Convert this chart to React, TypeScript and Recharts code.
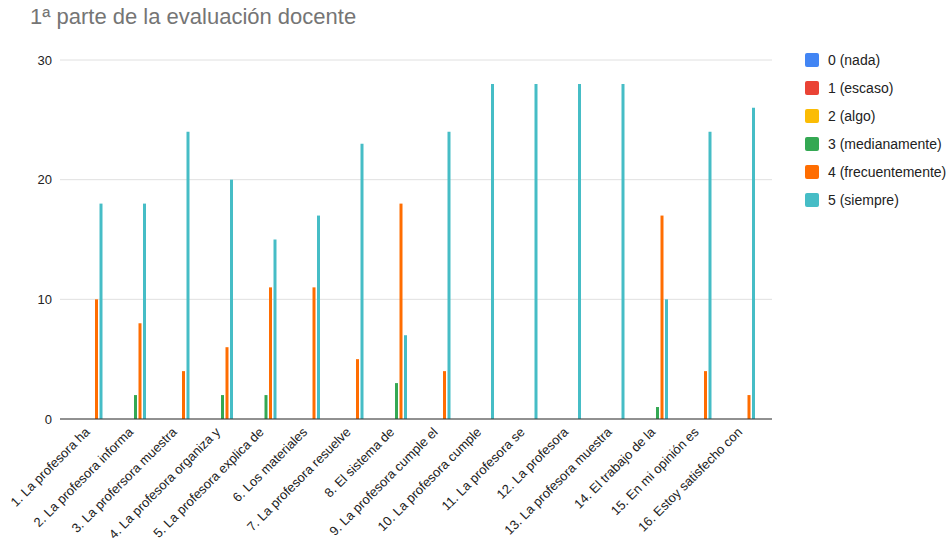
import { BarChart, Bar, XAxis, YAxis, CartesianGrid } from "recharts"

const categories = [
  "1. La profesora ha",
  "2. La profesora informa",
  "3. La profersora muestra",
  "4. La profesora organiza y",
  "5. La profesora explica de",
  "6. Los materiales",
  "7. La profesora resuelve",
  "8. El sistema de",
  "9. La profesora cumple el",
  "10. La profesora cumple",
  "11. La profesora se",
  "12. La profesora",
  "13. La profesora muestra",
  "14. El trabajo de la",
  "15. En mi opinión es",
  "16. Estoy satisfecho con",
]

const nada = [0, 0, 0, 0, 0, 0, 0, 0, 0, 0, 0, 0, 0, 0, 0, 0]
const escaso = [0, 0, 0, 0, 0, 0, 0, 0, 0, 0, 0, 0, 0, 0, 0, 0]
const algo = [0, 0, 0, 0, 0, 0, 0, 0, 0, 0, 0, 0, 0, 0, 0, 0]
const medianamente = [0, 2, 0, 2, 2, 0, 0, 3, 0, 0, 0, 0, 0, 1, 0, 0]
const frecuentemente = [10, 8, 4, 6, 11, 11, 5, 18, 4, 0, 0, 0, 0, 17, 4, 2]
const siempre = [18, 18, 24, 20, 15, 17, 23, 7, 24, 28, 28, 28, 28, 10, 24, 26]

const yTicks = [0, 10, 20, 30]

const series = [
  { key: "s0", name: "0 (nada)", color: "#4285f4", values: nada },
  { key: "s1", name: "1 (escaso)", color: "#ea4335", values: escaso },
  { key: "s2", name: "2 (algo)", color: "#fbbc04", values: algo },
  { key: "s3", name: "3 (medianamente)", color: "#34a853", values: medianamente },
  { key: "s4", name: "4 (frecuentemente)", color: "#ff6d01", values: frecuentemente },
  { key: "s5", name: "5 (siempre)", color: "#46bdc6", values: siempre },
]

const data = categories.map((name, i) => {
  const row: Record<string, string | number> = { name }
  series.forEach((s) => {
    row[s.key] = s.values[i]
  })
  return row
})

const font = "'Liberation Sans', Arial, sans-serif"

function AngledTick({ x, y, payload }: any) {
  return (
    <g transform={`translate(${x - 2},${y + 3})`}>
      <text
        x={0}
        y={0}
        dy={4}
        textAnchor="end"
        transform="rotate(-45)"
        fontSize={13}
        fontFamily={font}
        fill="#222"
      >
        {payload.value}
      </text>
    </g>
  )
}

function LegendList() {
  return (
    <div
      style={{
        position: "absolute",
        left: 805,
        top: 46,
        fontFamily: font,
        fontSize: 14,
        color: "#222",
        whiteSpace: "nowrap",
      }}
    >
      {series.map((s) => (
        <div key={s.key} style={{ display: "flex", alignItems: "center", height: 28 }}>
          <span
            style={{
              width: 14,
              height: 14,
              background: s.color,
              borderRadius: 2,
              marginRight: 9,
              display: "inline-block",
            }}
          />
          {s.name}
        </div>
      ))}
    </div>
  )
}

export default function App() {
  return (
    <div style={{ position: "absolute", left: 0, top: 0, width: 947, height: 552, background: "#fff" }}>
      <div
        style={{
          position: "absolute",
          left: 30,
          top: 4,
          fontFamily: font,
          fontSize: 22,
          color: "#757575",
        }}
      >
        1ª parte de la evaluación docente
      </div>
      <BarChart
        width={947}
        height={552}
        data={data}
        margin={{ top: 60, right: 175, bottom: 0, left: 30 }}
        barSize={3}
        barGap={1.5}
      >
        <CartesianGrid vertical={false} stroke="#e0e0e0" />
        <XAxis
          dataKey="name"
          interval={0}
          height={133}
          tickLine={false}
          axisLine={{ stroke: "#333" }}
          padding={{ left: 8, right: 8 }}
          tick={<AngledTick />}
        />
        <YAxis
          domain={[0, 30]}
          ticks={yTicks}
          width={30}
          axisLine={false}
          tickLine={false}
          tickSize={0}
          tickMargin={8}
          tick={{ fontSize: 13, fontFamily: font, fill: "#222" }}
        />
        {series.map((s) => (
          <Bar key={s.key} dataKey={s.key} name={s.name} fill={s.color} isAnimationActive={false} />
        ))}
      </BarChart>
      <LegendList />
    </div>
  )
}
